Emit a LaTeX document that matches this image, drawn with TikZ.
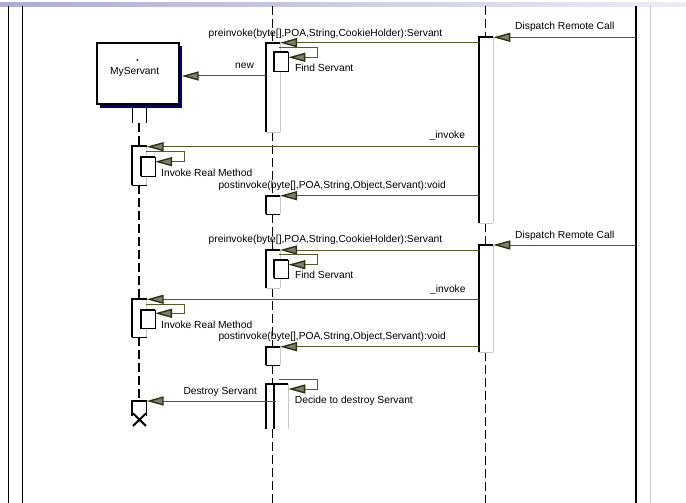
\documentclass[tikz,border=0pt]{standalone}
\usepackage{fontspec}
\setmainfont{Liberation Sans}
\usetikzlibrary{arrows.meta}
\definecolor{msg}{RGB}{88,88,40}
\definecolor{arrline}{RGB}{50,50,10}
\definecolor{arrfill}{RGB}{125,125,125}
\definecolor{shadownavy}{RGB}{0,0,128}
\definecolor{actgray}{RGB}{200,200,200}
\definecolor{bandL}{RGB}{172,172,214}
\definecolor{bandR}{RGB}{236,236,245}
\newcommand\actbar[5]{% x1 x2 y1 y2 bottomcolor
  \fill[white] (#1,#3) rectangle (#2,#4);
  \draw[actgray,line width=0.9pt] (#2,#3) -- (#2,#4);
  \draw[#5,line width=1pt] (#1,#4) -- (#2,#4);
  \draw[line width=1.7pt] (#1,#4) -- (#1,#3) -- (#2,#3);}
\newcommand\nestbox[4]{% x1 x2 y1 y2
  \fill[white] (#1,#3) rectangle (#2,#4);
  \draw[line width=0.8pt] (#1,#4) -- (#2,#4) -- (#2,#3);
  \draw[line width=1.7pt] (#1,#4) -- (#1,#3) -- (#2,#3);}
\begin{document}
\begin{tikzpicture}[x=1pt,y=-1pt,
  msgline/.style={draw=msg,line width=1pt,-{Triangle[length=17pt,width=9pt,color=arrline,fill=arrfill,line width=1.4pt]}},
  lbl/.style={font=\fontsize{10.25}{12}\selectfont,inner sep=0pt,text height=7.4pt,text depth=0pt,anchor=west},
  lifeline/.style={line width=1.5pt,dash pattern=on 9pt off 4pt},
  frameline/.style={line width=1pt}]
\useasboundingbox (0,0) rectangle (686,503);
\fill[white] (0,0) rectangle (686,503);
% top band
\shade[left color=bandL,right color=bandR] (0,3) rectangle (686,6.5);
% frame lines
\draw[frameline] (8.3,6.5) -- (8.3,503);
\draw[frameline] (22.3,6.5) -- (22.3,503);
\draw[line width=1.8pt] (636,6.5) -- (636,503);
\draw[actgray,line width=1pt] (650,6.5) -- (650,503);

% lifelines
\draw[lifeline] (139,123) -- (139,146);
\draw[lifeline] (139,185) -- (139,299.3);
\draw[lifeline] (139,337.3) -- (139,401);
\draw[lifeline] (272.7,6.5) -- (272.7,43);
\draw[lifeline] (272.7,132) -- (272.7,196);
\draw[lifeline] (272.7,214.3) -- (272.7,250);
\draw[lifeline] (272.7,288) -- (272.7,347);
\draw[lifeline] (272.7,365) -- (272.7,384);
\draw[lifeline] (272.7,429.3) -- (272.7,503);
\draw[lifeline] (485.7,6.5) -- (485.7,37.3);
\draw[lifeline] (485.7,223) -- (485.7,245);
\draw[lifeline] (485.7,352) -- (485.7,503);

% MyServant object
\fill[shadownavy] (99.7,46) rectangle (182,107.7);
\node[draw,line width=1.6pt,fill=white,minimum width=82.3pt,minimum height=61pt,inner sep=0pt] (srv) at (137.85,73.5) {};
\fill (137.3,60) circle (1pt);
\node[lbl] (srvname) at (110,71.3) {MyServant};
\draw[line width=1pt] (132.7,107.7) -- (132.7,123);
\draw[line width=1pt] (146,107.7) -- (146,123);

% activations on the dispatcher
\actbar{479.3}{493.3}{37.3}{223}{actgray}
\actbar{479.3}{493.3}{245}{352}{actgray}
% activations on the middle lifeline
\actbar{266.3}{280}{43}{132}{actgray}
\nestbox{274}{288.3}{52.3}{71.7}
\actbar{266.3}{280}{196}{214.3}{black}
\actbar{266.3}{280}{250}{288}{actgray}
\nestbox{274}{288.3}{259.7}{278.3}
\actbar{266.3}{280}{347}{365}{black}
\fill[white] (266.3,384) rectangle (288.3,429.3);
\draw[actgray,line width=0.9pt] (288.3,384) -- (288.3,429.3);
\draw[line width=1.7pt] (266.3,429.3) -- (266.3,384) -- (288.3,384);
\draw[line width=1.5pt] (274,384) -- (274,429.3);
% activations on MyServant
\actbar{132.3}{146.7}{146}{185}{black}
\nestbox{140.7}{155}{156.7}{176}
\actbar{132.3}{146.7}{299.3}{337.3}{black}
\nestbox{140.7}{155}{309.7}{328.7}
\fill[white] (132.3,401) rectangle (146.7,420);
\draw[line width=0.8pt] (146.7,401) -- (146.7,416);
\draw[line width=1.7pt] (132.3,416) -- (132.3,401) -- (146.7,401);
\draw[line width=2pt] (133,413.3) -- (146,426) (146,413.3) -- (133,426);

% message end points
\coordinate (ext1) at (636,37.3);   \coordinate (d1) at (493.3,37.3);
\coordinate (p1s) at (479.3,42.7);  \coordinate (p1e) at (280,42.7);
\coordinate (f1s) at (279,47.7);    \coordinate (f1c) at (317.3,57.3); \coordinate (f1e) at (288.3,57.3);
\coordinate (n1s) at (266.3,76);    \coordinate (n1e) at (181.7,76);
\coordinate (i1s) at (479.3,146.7); \coordinate (i1e) at (146.7,146.7);
\coordinate (r1s) at (145.7,151.7); \coordinate (r1c) at (184,161.7); \coordinate (r1e) at (155,161.7);
\coordinate (q1s) at (479.3,195.7); \coordinate (q1e) at (280,195.7);
\coordinate (ext2) at (636,245);    \coordinate (d2) at (493.3,245);
\coordinate (p2s) at (479.3,250);   \coordinate (p2e) at (280,250);
\coordinate (f2s) at (279,254.3);   \coordinate (f2c) at (317.3,264.7); \coordinate (f2e) at (288.3,264.7);
\coordinate (i2s) at (479.3,299.3); \coordinate (i2e) at (146.7,299.3);
\coordinate (r2s) at (145.7,304);   \coordinate (r2c) at (184,313.3); \coordinate (r2e) at (155,313.3);
\coordinate (q2s) at (479.3,346.7); \coordinate (q2e) at (280,346.7);
\coordinate (f3s) at (279,379);     \coordinate (f3c) at (317.3,389); \coordinate (f3e) at (288.3,389);
\coordinate (xs) at (275.7,401);    \coordinate (xe) at (146.7,401);

% messages
\draw[msgline] (ext1) -- (d1);
\draw[msgline] (p1s) -- (p1e);
\draw[msgline] (f1s) -| (f1c) -- (f1e);
\draw[msgline] (n1s) -- (n1e);
\draw[msgline] (i1s) -- (i1e);
\draw[msgline] (r1s) -| (r1c) -- (r1e);
\draw[msgline] (q1s) -- (q1e);
\draw[msgline] (ext2) -- (d2);
\draw[msgline] (p2s) -- (p2e);
\draw[msgline] (f2s) -| (f2c) -- (f2e);
\draw[msgline] (i2s) -- (i2e);
\draw[msgline] (r2s) -| (r2c) -- (r2e);
\draw[msgline] (q2s) -- (q2e);
\draw[msgline] (f3s) -| (f3c) -- (f3e);
\draw[msgline] (xs) -- (xe);

% labels
\node[lbl] (l1) at (515,26) {Dispatch Remote Call};
\node[lbl] (l2) at (208.5,33.3) {preinvoke(byte[],POA,String,CookieHolder):Servant};
\node[lbl] (l3) at (295,67.7) {Find Servant};
\node[lbl] (l4) at (235,65.3) {new};
\node[lbl] (l5) at (429.5,135) {\_invoke};
\node[lbl] (l6) at (161,172.3) {Invoke Real Method};
\node[lbl] (l7) at (218.3,184.7) {postinvoke(byte[],POA,String,Object,Servant):void};
\node[lbl] (l8) at (515,234.3) {Dispatch Remote Call};
\node[lbl] (l9) at (208.5,238.3) {preinvoke(byte[],POA,String,CookieHolder):Servant};
\node[lbl] (l10) at (295,274.3) {Find Servant};
\node[lbl] (l11) at (430,289) {\_invoke};
\node[lbl] (l12) at (161,324.3) {Invoke Real Method};
\node[lbl] (l13) at (218.3,336) {postinvoke(byte[],POA,String,Object,Servant):void};
\node[lbl] (l14) at (294.7,399.3) {Decide to destroy Servant};
\node[lbl] (l15) at (183.3,390.7) {Destroy Servant};
\end{tikzpicture}
\end{document}
